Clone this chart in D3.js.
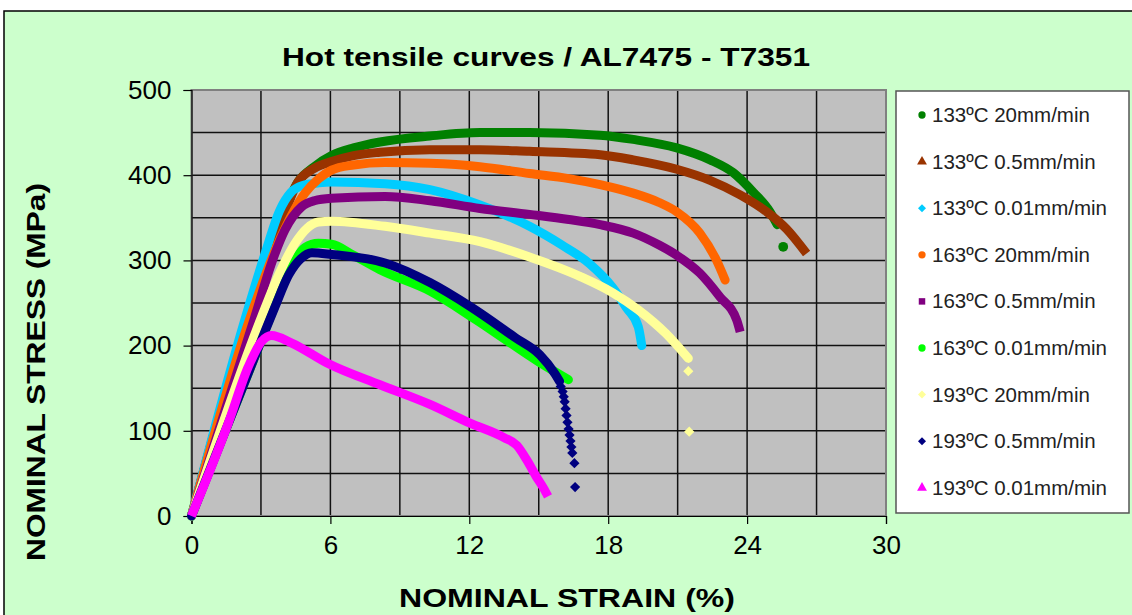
<!DOCTYPE html>
<html><head><meta charset="utf-8">
<script src="https://cdn.jsdelivr.net/npm/d3@7"></script>
<style>body{margin:0;background:#fff;}svg{display:block;}</style>
</head><body>
<svg id="c" width="1132" height="615"></svg>
<script>
// ---------- data (strain %, stress MPa) ----------
const seriesNames = ["133ºC 20mm/min","133ºC 0.5mm/min","133ºC 0.01mm/min","163ºC 20mm/min","163ºC 0.5mm/min","163ºC 0.01mm/min","193ºC 20mm/min","193ºC 0.5mm/min","193ºC 0.01mm/min"];
const seriesColors = ["#008000","#993300","#00CCFF","#FF6600","#800080","#00FF00","#FFFF99","#000080","#FF00FF"];
const seriesMarkers = ["circle","triangle","diamond","circle","square","circle","diamond","diamond","triangle"];

const s133_20 = [[0,0],[2.2,212],[3.6,328],[4.6,392],[5.3,410],[6.05,423],[7,432],[8.14,439],[10.3,446],[12.46,450],[14.6,450],[17.65,447],[19.08,442],[20.96,432],[22.4,418],[23.4,403],[24.27,380],[24.99,357],[25.3,342]];
const s133_05 = [[0,0],[2.2,212],[3.7,330],[4.6,392],[5.3,408],[6.05,416],[7,423],[8.14,427],[10.3,430],[12.46,430],[14.6,428],[17.65,424],[19.08,418],[20.96,407],[22.4,394],[23.7,377],[24.85,357],[25.7,337],[26.57,308]];
const s133_001 = [[0,0],[2.3,230],[3.2,310],[3.8,358],[4.3,380],[4.8,388],[5.5,391],[6.05,392],[8.36,390],[10.3,383],[12.46,365],[14.6,340],[16.0,318],[17.2,296],[18.2,268],[18.8,244],[19.3,222],[19.45,200]];
const s163_20 = [[0,0],[2.5,230],[3.9,330],[4.9,379],[5.5,396],[6.05,406],[7,412],[8.36,415],[10.3,414],[12.46,410],[14.6,402],[16.3,396],[17.65,389],[19.08,379],[20.2,368],[20.96,357],[21.96,332],[22.68,300],[23.05,277]];
const s163_05 = [[0,0],[2.74,234],[3.5,300],[4.04,336],[4.76,363],[5.3,370],[6.05,373],[8.36,375],[10.3,370],[12.46,361],[14.6,354],[16.3,348],[17.65,342],[19.08,332],[20.2,318],[20.96,306],[21.96,285],[22.83,257],[23.55,230],[23.7,216]];
const s163_001 = [[0,0],[3.0,205],[3.6,247],[4.3,292],[4.9,315],[5.48,320],[6.05,319],[7,306],[8.14,289],[10.3,264],[12.2,232],[15.05,180],[16.28,160]];
const s193_20 = [[0,0],[3.03,234],[3.8,285],[4.47,320],[5.0,338],[5.48,345],[6.05,346],[8.36,340],[10.3,332],[12.46,322],[14.6,304],[16.8,281],[18.2,262],[19.3,242],[20.5,214],[21.46,185]];
const s193_05 = [[0,0],[3.0,205],[3.6,245],[4.2,283],[4.72,302],[5.2,309],[6.05,307],[8.36,297],[10.3,274],[12.03,246],[14,209],[15.05,189],[15.7,167],[15.9,158]];
const s193_001 = [[0,0],[1.59,109],[2.45,175],[3.03,205],[3.46,212],[4.33,203],[5.9,179],[8.14,154],[10.3,131],[12.03,109],[13.5,92],[14.05,83],[14.5,65],[14.9,46],[15.2,33],[15.4,23]];
const seriesData = [s133_20,s133_05,s133_001,s163_20,s163_05,s163_001,s193_20,s193_05,s193_001];

// isolated end points (series index, strain, stress)
const extraPoints = [[0,25.56,316],[6,21.46,170],[6,21.5,99],
  [7,15.95,152],[7,16.03,146],[7,16.08,140],[7,16.12,134],[7,16.16,126],[7,16.2,118],[7,16.24,110],[7,16.29,102],[7,16.33,95],[7,16.37,88],[7,16.41,81],[7,16.45,74],[7,16.54,62],[7,16.57,34]];

const xTicks = [0,6,12,18,24,30];
const yTicks = [0,100,200,300,400,500];
const xGrid = [3,6,9,12,15,18,21,24,27];
const yGrid = [50,100,150,200,250,300,350,400,450];

const titleText = "Hot tensile curves / AL7475 - T7351";
const xLabel = "NOMINAL STRAIN  (%)";
const yLabel = "NOMINAL STRESS (MPa)";

// ---------- drawing ----------
const svg = d3.select("#c");
const F = "'Liberation Sans', Arial, sans-serif";
const L = 191.5, R = 886, T = 90, B = 516;
const x = d3.scaleLinear().domain([0,30]).range([L,R]);
const y = d3.scaleLinear().domain([0,500]).range([B,T]);

svg.append("rect").attr("x",4).attr("y",11).attr("width",1140).attr("height",620)
  .attr("fill","#CCFFCC").attr("stroke","#000").attr("stroke-width",1.5);

svg.append("text").attr("x",546).attr("y",66).attr("text-anchor","middle")
  .attr("font-family",F).attr("font-weight","bold").attr("font-size",25)
  .attr("textLength",528).attr("lengthAdjust","spacingAndGlyphs").text(titleText);

svg.append("rect").attr("x",L).attr("y",T).attr("width",R-L).attr("height",B-T).attr("fill","#C0C0C0");

const g = svg.append("g");
g.selectAll(".gx").data(xGrid).join("line").attr("x1",d=>x(d)).attr("x2",d=>x(d)).attr("y1",T).attr("y2",B)
  .attr("stroke","#111").attr("stroke-width",1.5);
g.selectAll(".gy").data(yGrid).join("line").attr("y1",d=>y(d)).attr("y2",d=>y(d)).attr("x1",L).attr("x2",R)
  .attr("stroke","#111").attr("stroke-width",1.5);
svg.append("rect").attr("x",L).attr("y",T).attr("width",R-L).attr("height",B-T).attr("fill","none")
  .attr("stroke","#808080").attr("stroke-width",2);

// axes
const xAxis = d3.axisBottom(x).tickValues(xTicks).tickSize(8).tickPadding(12).tickFormat(d3.format("d"));
const yAxis = d3.axisLeft(y).tickValues(yTicks).tickSize(8).tickPadding(12).tickFormat(d3.format("d"));
const gx = svg.append("g").attr("transform",`translate(0,${B})`).call(xAxis);
const gy = svg.append("g").attr("transform",`translate(${L},0)`).call(yAxis);
[gx,gy].forEach(a=>{
  a.select(".domain").attr("stroke","#000").attr("stroke-width",1.2);
  a.selectAll(".tick line").attr("stroke","#000").attr("stroke-width",1.2);
  a.selectAll("text").attr("font-family",F).attr("font-size",26).attr("fill","#000");
});

// curves
const line = d3.line().x(d=>x(d[0])).y(d=>y(d[1])).curve(d3.curveMonotoneX);
const plot = svg.append("g");
seriesData.forEach((s,i)=>{
  plot.append("path").attr("d",line(s)).attr("fill","none").attr("stroke",seriesColors[i])
    .attr("stroke-width",9).attr("stroke-linejoin","round")
    .attr("stroke-linecap", seriesMarkers[i]==="circle"||seriesMarkers[i]==="diamond" ? "round":"butt");
});
const symType = {circle:d3.symbolCircle,triangle:d3.symbolTriangle,diamond:d3.symbolSquare,square:d3.symbolSquare};
const symRot = m => m==="diamond" ? " rotate(45)" : "";
plot.selectAll(".ex").data(extraPoints).join("path")
  .attr("transform",d=>`translate(${x(d[1])},${y(d[2])})${symRot(seriesMarkers[d[0]])}`)
  .attr("d",d=>d3.symbol().type(symType[seriesMarkers[d[0]]]).size(d[0]===0?75:52)())
  .attr("fill",d=>seriesColors[d[0]]);

// axis titles
svg.append("text").attr("x",567).attr("y",607).attr("text-anchor","middle")
  .attr("font-family",F).attr("font-weight","bold").attr("font-size",25)
  .attr("textLength",336).attr("lengthAdjust","spacingAndGlyphs").text(xLabel);
svg.append("text").attr("transform","translate(45,372) rotate(-90)").attr("text-anchor","middle")
  .attr("font-family",F).attr("font-weight","bold").attr("font-size",25)
  .attr("textLength",378).attr("lengthAdjust","spacingAndGlyphs").text(yLabel);

// legend
const lg = svg.append("g");
lg.append("rect").attr("x",896).attr("y",91).attr("width",233).attr("height",422)
  .attr("fill","#fff").attr("stroke","#555").attr("stroke-width",1.5);
seriesNames.forEach((n,i)=>{
  const cy = 115 + i*46.6;
  lg.append("path").attr("transform",`translate(922,${cy})${symRot(seriesMarkers[i])}`)
    .attr("d",d3.symbol().type(symType[seriesMarkers[i]]).size(seriesMarkers[i]==="diamond"?32:42)()).attr("fill",seriesColors[i]);
  lg.append("text").attr("x",932).attr("y",cy+7).attr("font-family",F).attr("font-size",20.5)
    .attr("fill","#222").text(n);
});
</script>
</body></html>
